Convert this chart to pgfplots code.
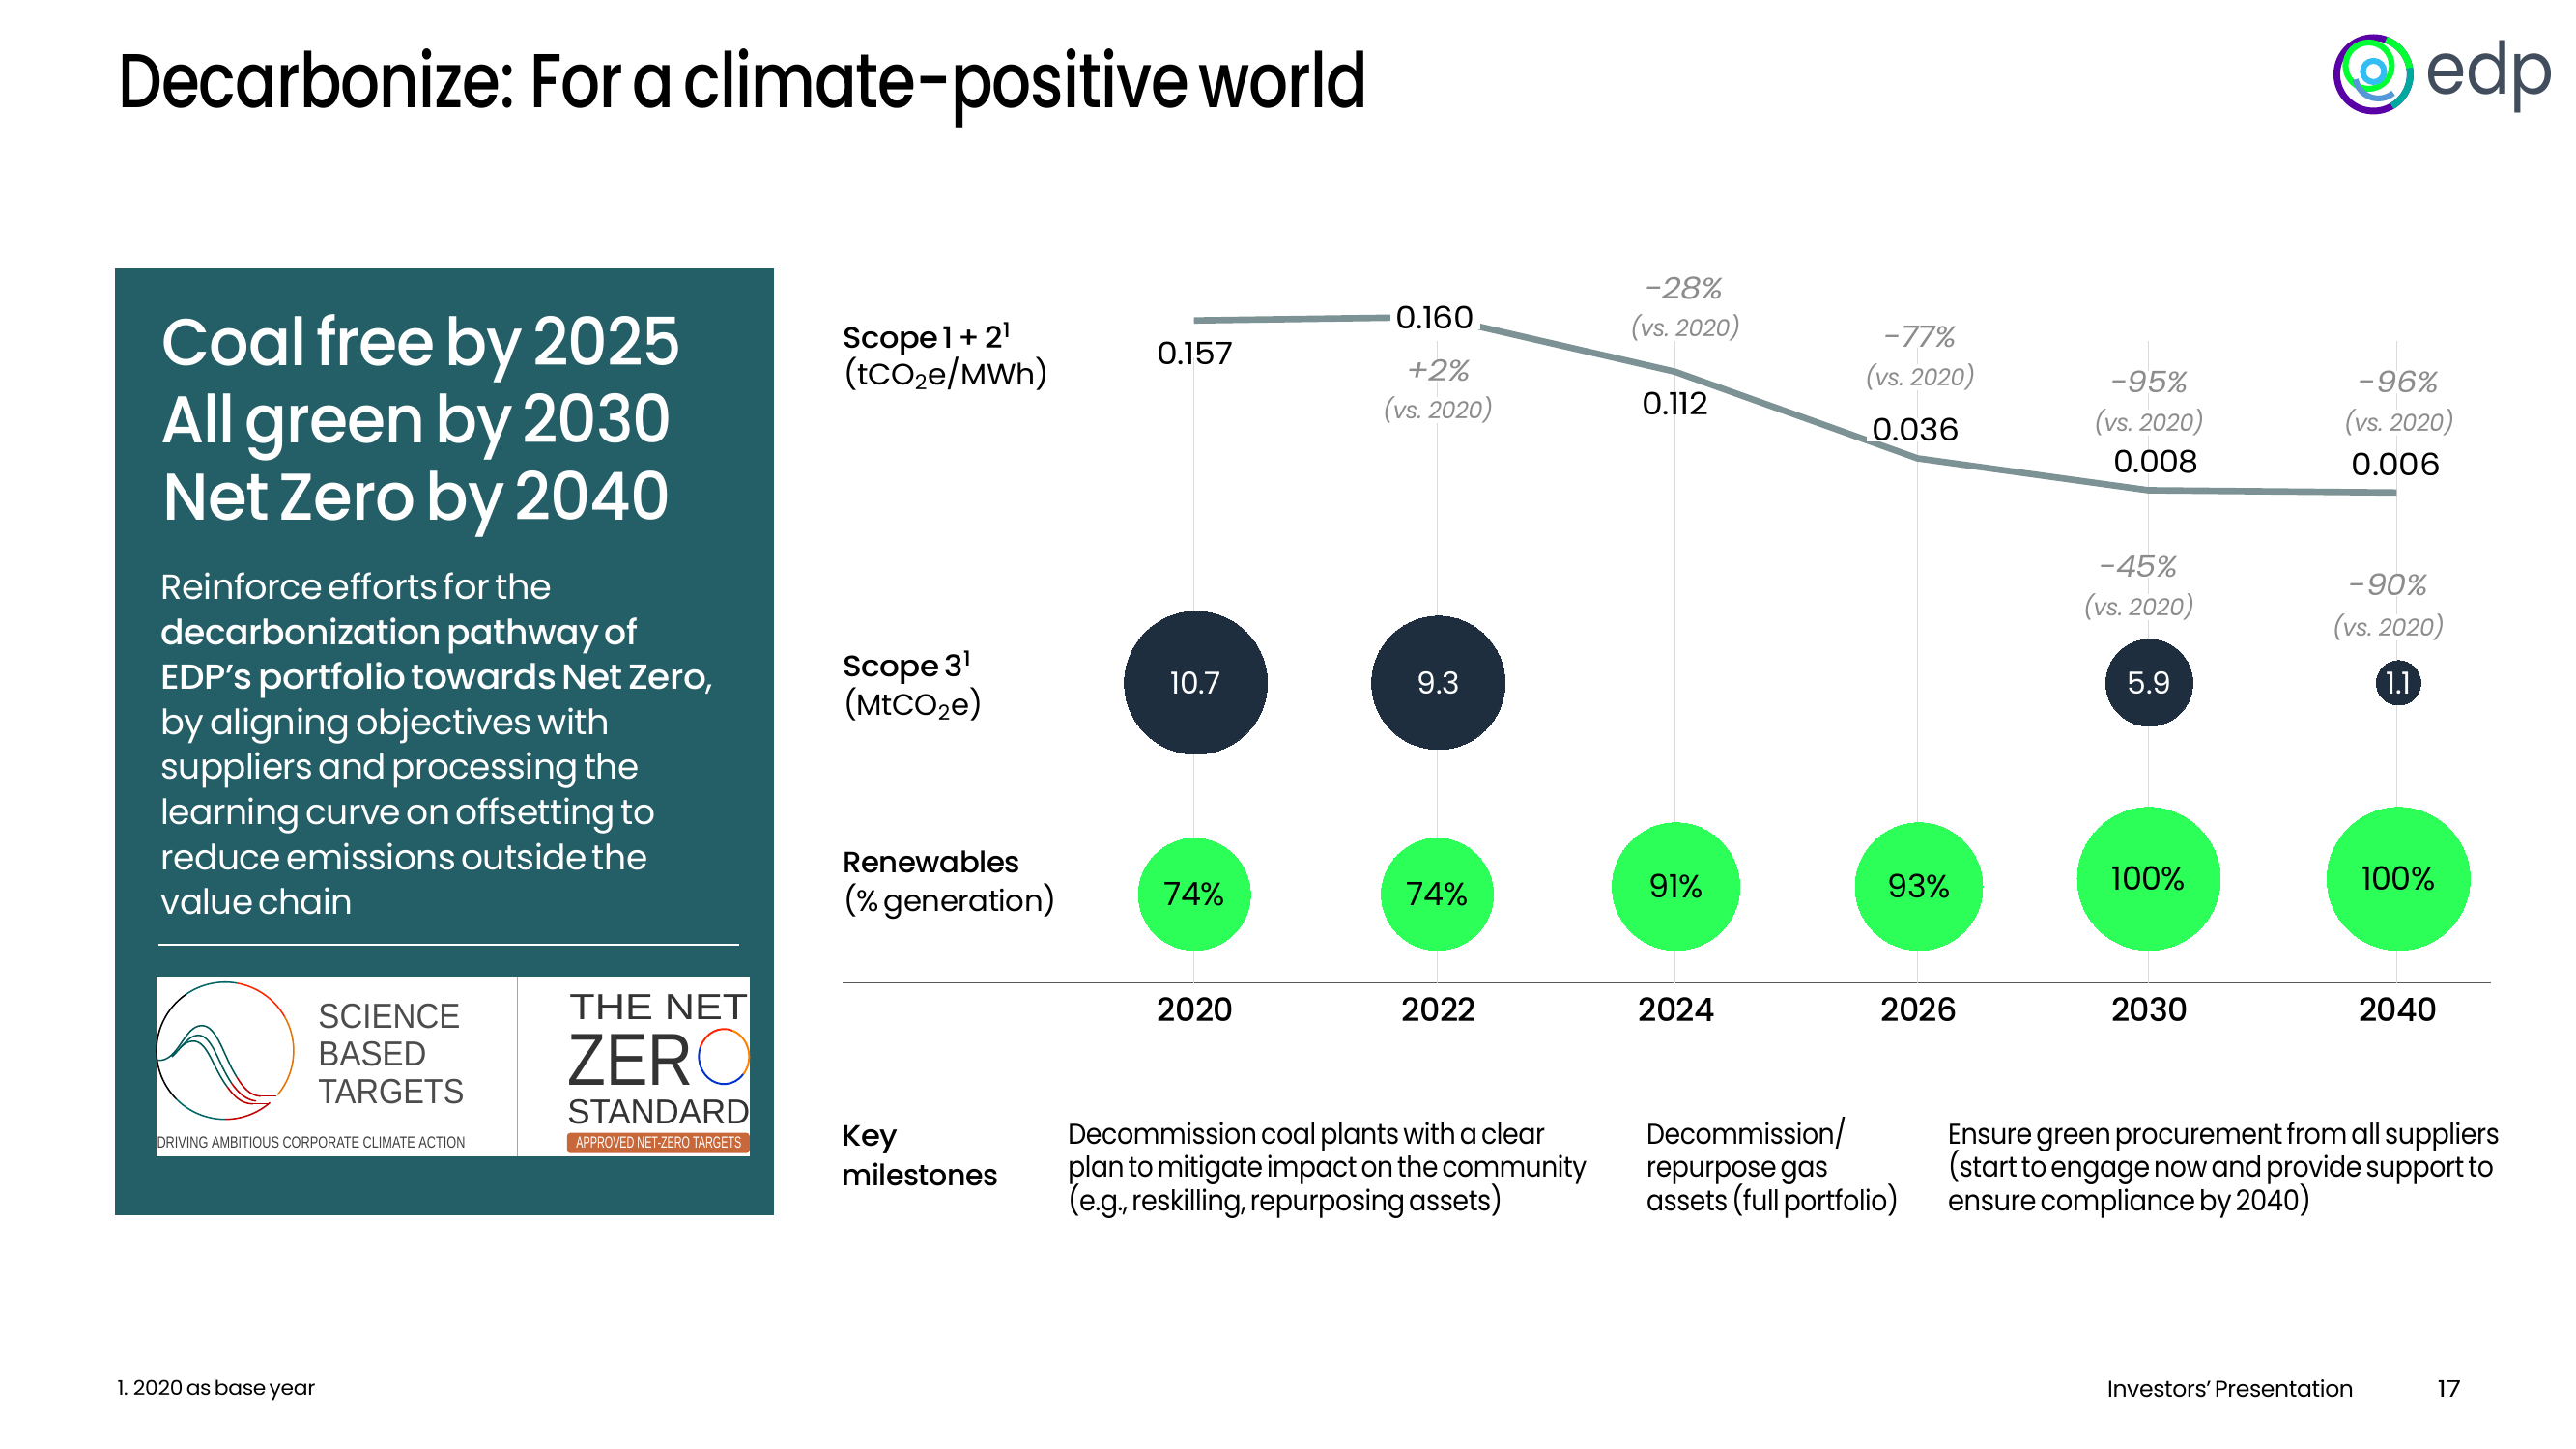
\documentclass[border=0pt]{standalone}
\usepackage{fontspec}
\usepackage{graphicx}
\usepackage{pgfplots}
\pgfplotsset{compat=1.18}
\setmainfont{Poppins}[WordSpace=0.6,LetterSpace=-1.5]
\newfontfamily\med{Poppins Medium}[WordSpace=0.6,LetterSpace=-1.5]
\newfontfamily\lib{Liberation Sans}
\definecolor{panel}{HTML}{245E67}
\definecolor{navy}{HTML}{1F2E3F}
\definecolor{lime}{HTML}{2BFF58}
\definecolor{linec}{HTML}{7C9295}
\definecolor{gridc}{HTML}{DADADA}
\definecolor{pct}{HTML}{8C8C8C}
\definecolor{orbox}{HTML}{C8683A}
\newdimen\px \px=0.36pt
\newcommand\fs[1]{\fontsize{#1}{#1}\selectfont}
% left, right, baseline, text
\newcommand\TXTB[5][]{\node[anchor=base west,inner sep=0pt,yshift=-0.6pt,#1] at (#2,#4) {\resizebox{\dimexpr#3\px-#2\px\relax}{\height}{#5}};}
\newcommand\Pc[4]{\TXTB[fill=white,text=pct]{#1}{#2}{#3}{\fs{11}\itshape #4}}
\newcommand\Vs[3]{\TXTB[fill=white,text=pct]{#1}{#2}{#3}{\fs{8.8}\itshape (vs. 2020)}}
\pgfplotstableread{
x    v
1236 0.157
1488 0.160
1734 0.112
1985 0.036
2224 0.008
2481 0.006
}\scopeA
% x, y, radius in px, colour, text colour, label size, label
\newcommand\Bub[7]{\addplot[only marks,mark=*,mark size={#3*0.36},color=#4,mark options={line width=0pt},
  nodes near coords={#7},
  every node near coord/.append style={anchor=center,text=#5,font=\fs{#6}}] coordinates {(#1,#2)};}
\newcommand\Grid[2]{\addplot[color=gridc,line width=0.55pt,mark=none,forget plot] coordinates {(#1,#2) (#1,-0.42451)};}
\begin{document}
\begin{tikzpicture}
\useasboundingbox (0,0) rectangle (960pt,540pt);
\fill[white] (0,0) rectangle (960pt,540pt);
\begin{scope}[x=0.36pt,y=-0.36pt,shift={(0pt,540pt)}]
\fill[panel] (119,277) rectangle (801,1258);
\fill[white] (164,977) rectangle (765,979);
\fill[white] (162,1011) rectangle (776,1197);
\draw[gray!70,line width=0.4pt] (536,1011) -- (536,1197);
% SBT logo
\begin{scope}[line width=0.55pt]
\draw[color=orange!90!black] (233,1088) ++(40:71) arc[start angle=40,end angle=-30,radius=71];
\draw[color=red!70!orange] (233,1088) ++(-30:71) arc[start angle=-30,end angle=-80,radius=71];
\draw[color=teal!80!black] (233,1088) ++(-80:71) arc[start angle=-80,end angle=-125,radius=71];
\draw[black] (233,1088) ++(-125:71) arc[start angle=-125,end angle=-225,radius=71];
\draw[color=teal!80!black] (233,1088) ++(-225:71) arc[start angle=-225,end angle=-270,radius=71];
\draw[color=red!75!black] (233,1088) ++(-270:71) arc[start angle=-270,end angle=-311,radius=71];
\draw[color=red!75!black] (286,1135) -- (270,1135);
\draw[color=red!75!black] (279,1143) -- (262,1143);
\draw[color=teal!70!black] (163,1098) .. controls (185,1100) and (190,1062) .. (209,1062) .. controls (225,1062) and (232,1095) .. (245,1115);
\draw[color=teal!70!black] (178,1094) .. controls (188,1085) and (195,1072) .. (205,1072) .. controls (220,1072) and (225,1100) .. (240,1122);
\draw[color=teal!70!black] (178,1094) .. controls (185,1088) and (190,1078) .. (200,1078) .. controls (215,1078) and (220,1105) .. (235,1125);
\draw[color=red!75!black] (245,1115) .. controls (252,1127) and (260,1135) .. (270,1135);
\draw[color=red!75!black] (240,1122) .. controls (247,1132) and (255,1139) .. (265,1140);
\draw[color=red!75!black] (235,1125) .. controls (242,1135) and (250,1143) .. (262,1143);
\end{scope}
\TXTB[text=black!70]{329}{476}{1063}{\lib\fs{13}SCIENCE}
\TXTB[text=black!70]{329}{441}{1102}{\lib\fs{13}BASED}
\TXTB[text=black!70]{329}{480}{1141}{\lib\fs{13}TARGETS}
\TXTB[text=black!75]{162}{481}{1187}{\lib\fs{6}DRIVING AMBITIOUS CORPORATE CLIMATE ACTION}
\TXTB[text=black!80]{589}{774}{1054}{\lib\fs{13.5}THE NET}
\TXTB[text=black!80]{587}{717}{1122}{\lib\fs{27.5}ZER}
\draw[line width=0.7pt,color=red!70!orange] (749.5,1094) ++(-160:26 and 28.5) arc[start angle=-160,end angle=-70,x radius=26,y radius=28.5];
\draw[line width=0.7pt,color=orange] (749.5,1094) ++(-70:26 and 28.5) arc[start angle=-70,end angle=40,x radius=26,y radius=28.5];
\draw[line width=0.7pt,color=blue!60!teal] (749.5,1094) ++(40:26 and 28.5) arc[start angle=40,end angle=200,x radius=26,y radius=28.5];
\TXTB[text=black!80]{587}{776}{1162}{\lib\fs{13}STANDARD}
\fill[rounded corners=1.2pt,fill=orbox] (587,1173) rectangle (776,1194);
\TXTB[text=white]{596}{767}{1187}{\lib\fs{6}APPROVED NET-ZERO TARGETS}
% title
\TXTB{122}{1416}{110}{\med\fs{28.5}Decarbonize: For a climate-positive world}
% panel text
\TXTB[text=white]{167}{706}{377}{\med\fs{24.7}Coal free by 2025}
\TXTB[text=white]{166}{696}{457}{\med\fs{24.7}All green by 2030}
\TXTB[text=white]{168}{694}{537}{\med\fs{24.7}Net Zero by 2040}
\TXTB[text=white]{166}{571}{619}{\fs{13}Reinforce efforts for the}
\TXTB[text=white]{166}{660}{666}{\med\fs{13}decarbonization pathway of}
\TXTB[text=white]{166}{738}{712}{\fs{13}{\med EDP’s portfolio towards Net Zero},}
\TXTB[text=white]{166}{631}{759}{\fs{13}by aligning objectives with}
\TXTB[text=white]{166}{661}{805}{\fs{13}suppliers and processing the}
\TXTB[text=white]{166}{678}{852}{\fs{13}learning curve on offsetting to}
\TXTB[text=white]{166}{670}{899}{\fs{13}reduce emissions outside the}
\TXTB[text=white]{166}{365}{945}{\fs{13}value chain}
% row labels
\TXTB{872}{1047}{359}{\med\fs{11}Scope 1 + 2\textsuperscript{1}}
\TXTB{873}{1085}{397}{\fs{11}(tCO\textsubscript{2}e/MWh)}
\TXTB{872}{1006}{699}{\med\fs{11}Scope 3\textsuperscript{1}}
\TXTB{873}{1017}{739}{\fs{11}(MtCO\textsubscript{2}e)}
\TXTB{872}{1056}{902}{\med\fs{11}Renewables}
\TXTB{873}{1093}{942}{\fs{11}(\% generation)}
% milestones
\TXTB{871}{929}{1185}{\med\fs{11}Key}
\TXTB{871}{1033}{1226}{\med\fs{11}milestones}
\TXTB{1105}{1599}{1183}{\fs{10.7}Decommission coal plants with a clear}
\TXTB{1105}{1642}{1217}{\fs{10.7}plan to mitigate impact on the community}
\TXTB{1105}{1555}{1252}{\fs{10.7}(e.g., reskilling, repurposing assets)}
\TXTB{1704}{1911}{1183}{\fs{10.7}Decommission/}
\TXTB{1704}{1892}{1217}{\fs{10.7}repurpose gas}
\TXTB{1704}{1965}{1252}{\fs{10.7}assets (full portfolio)}
\TXTB{2016}{2587}{1183}{\fs{10.7}Ensure green procurement from all suppliers}
\TXTB{2016}{2581}{1217}{\fs{10.7}(start to engage now and provide support to}
\TXTB{2016}{2392}{1252}{\fs{10.7}ensure compliance by 2040)}
% footer
\TXTB{121}{326}{1443}{\fs{7.5}1. 2020 as base year}
\TXTB{2181}{2436}{1445}{\fs{8.5}Investors’ Presentation}
\TXTB{2523}{2547}{1445}{\fs{8.5}17}
% edp logo
\begin{scope}[line width=2.5pt]
\draw[color=violet!70!blue] (2457,77) circle[radius=38];
\draw[color=cyan!50!green] (2457,77) ++(60:38) arc[start angle=60,end angle=-10,radius=38];
\draw[color=green!80!cyan] (2457,77) ++(-10:38) arc[start angle=-10,end angle=-70,radius=38];
\draw[color=green!80!cyan,line width=2.2pt] (2452,68) circle[radius=24];
\draw[color=cyan!60!blue!70,line width=2.2pt] (2462,78) ++(170:24) arc[start angle=170,end angle=50,radius=24];
\draw[color=cyan!80!white,line width=2.2pt] (2457,74) circle[radius=11];
\end{scope}
\TXTB[text=navy!85!white]{2511}{2643}{96}{\fs{27}edp}
\end{scope}
% emission-intensity line, grid and year axis
\begin{axis}[
  at={(313.92pt,173.52pt)},anchor=south west,
  scale only axis,width=614.52pt,height=258.48pt,
  xmin=872,xmax=2579,ymin=-0.42451,ymax=0.18397,
  axis x line=bottom,axis y line=none,
  axis line style={-,color=black!65,line width=0.5pt},
  xtick={1236,1488,1734,1985,2224,2481},
  xticklabels={2020,2022,2024,2026,2030,2040},
  major tick length=0pt,
  xticklabel style={font=\med\fs{12},text=black,yshift=-2pt,xshift=0.6pt},
  clip=false]
\Grid{1236}{0.1246}
\Grid{1488}{0.13905}
\Grid{1734}{0.13905}
\Grid{1985}{0.13905}
\Grid{2224}{0.13905}
\Grid{2481}{0.13905}
\addplot[color=linec,line width=2.4pt,mark=none,line join=round] table[x=x,y=v] {\scopeA};
\end{axis}
% Scope 3 and renewables bubbles
\begin{axis}[
  at={(313.92pt,173.52pt)},anchor=south west,
  scale only axis,width=614.52pt,height=258.48pt,
  xmin=872,xmax=2579,ymin=300,ymax=1018,y dir=reverse,
  hide axis,clip=false]
\Bub{1238}{707}{74}{navy}{white}{11.3}{10.7}
\Bub{1489}{707}{69}{navy}{white}{11.3}{9.3}
\Bub{2225}{707}{45}{navy}{white}{11.3}{5.9}
\Bub{2483}{707}{23}{navy}{white}{11.3}{1.1}
\Bub{1236.5}{926}{58}{lime}{black}{12}{74\%}
\Bub{1488}{926}{58}{lime}{black}{12}{74\%}
\Bub{1735}{918}{66}{lime}{black}{12}{91\%}
\Bub{1986.5}{918}{66}{lime}{black}{12}{93\%}
\Bub{2224.5}{910}{74}{lime}{black}{12}{100\%}
\Bub{2483}{910}{74}{lime}{black}{12}{100\%}
\end{axis}
% value labels
\begin{scope}[x=0.36pt,y=-0.36pt,shift={(0pt,540pt)}]
\TXTB{1197}{1276}{376}{\fs{11.5}0.157}
\TXTB[fill=white,inner xsep=2pt,xshift=-2pt]{1444}{1526}{339}{\fs{11.5}0.160}
\TXTB{1699}{1768}{428}{\fs{11.5}0.112}
\TXTB[fill=white,inner xsep=2pt,xshift=-2pt]{1937}{2028}{455}{\fs{11.5}0.036}
\TXTB[fill=white]{2187}{2276}{488}{\fs{11.5}0.008}
\TXTB{2434}{2526}{491}{\fs{11.5}0.006}
\Pc{1702}{1784}{308}{-28\%}\Vs{1687}{1801}{347}
\Pc{1455}{1522}{393}{+2\%}\Vs{1431}{1545}{432}
\Pc{1949}{2025}{358}{-77\%}\Vs{1930}{2044}{398}
\Pc{2184}{2265}{405}{-95\%}\Vs{2167}{2281}{445}
\Pc{2441}{2524}{405}{-96\%}\Vs{2426}{2540}{445}
\Pc{2172}{2254}{596}{-45\%}\Vs{2156}{2271}{636}
\Pc{2431}{2513}{615}{-90\%}\Vs{2414}{2530}{657}
\end{scope}
\end{tikzpicture}
\end{document}
